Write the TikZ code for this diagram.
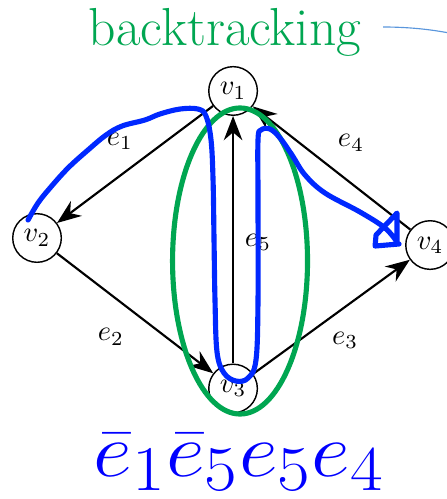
\documentclass[tikz,border=0pt]{standalone}
\usepackage{amsmath}
\usepackage{xcolor}
\usetikzlibrary{arrows.meta, positioning}
\definecolor{verde}{RGB}{0,166,81}
\definecolor{azul}{RGB}{0,40,255}
\definecolor{azulclaro}{RGB}{90,150,220}

\begin{document}
\begin{tikzpicture}[
    vertex/.style={
        circle,
        draw=black,
        line width=0.5pt,
        minimum size=0.6cm,
        inner sep=0pt
    },
    edge/.style={-{Stealth[length=8.5pt, width=6.5pt]}, line width=0.75pt},
    walk/.style={draw=azul, line width=1.8pt, line join=round, line cap=round}
]
\useasboundingbox (0,0) rectangle (5.506,-6.160);

% ---------------- Vertices ----------------
\node[vertex] (v1) at (2.877,-1.123) {$v_1$};
\node[vertex] (v2) at (0.457,-2.938) {$v_2$};
\node[vertex] (v3) at (2.877,-4.796) {$v_3$};
\node[vertex] (v4) at (5.309,-3.025) {$v_4$};

% ---------------- Edges ----------------
\draw[edge] (v1) -- (v2);
\draw[edge] (v2) -- (v3);
\draw[edge] (v3) -- (v4);
\draw[edge] (v4) -- (v1);
\draw[edge] (v3) -- (v1);

\node (l1) at (1.481,-1.741) {$e_1$};
\node (l2) at (1.370,-4.160) {$e_2$};
\node (l3) at (4.259,-4.198) {$e_3$};
\node (l4) at (4.333,-1.765) {$e_4$};
\node (l5) at (3.185,-2.988) {$e_5$};

% ---------------- Backtracking ----------------
\draw[verde, line width=1.8pt] (2.963,-3.222) ellipse [x radius=0.833, y radius=1.889];

\draw[walk] plot[smooth, tension=0.6] coordinates {
    (0.346,-2.716) (0.469,-2.506) (0.617,-2.321) (0.840,-2.074) (1.086,-1.852)
    (1.309,-1.667) (1.506,-1.556) (1.790,-1.481) (1.975,-1.407) (2.222,-1.346)
    (2.444,-1.346) (2.543,-1.432) (2.605,-1.728) (2.630,-2.222) (2.642,-2.963)
    (2.654,-3.704) (2.679,-4.346) (2.765,-4.605) (2.914,-4.704) (3.062,-4.667)
    (3.160,-4.444) (3.185,-3.704) (3.185,-2.469) (3.185,-1.728) (3.222,-1.605)
    (3.333,-1.593) (3.457,-1.704) (3.605,-1.914) (3.765,-2.160) (4.012,-2.383)
    (4.444,-2.617) (4.753,-2.815) (4.901,-2.988)}
    -- (4.901,-2.630) -- (4.642,-2.901) -- (4.630,-3.037) -- (4.926,-3.012);

\node[font=\fontsize{18.8}{22}\selectfont, text=verde, anchor=base] (titulo) at (2.778,-0.556) {backtracking};
\draw[azulclaro, line width=0.4pt] (4.728,-0.333) .. controls (5.1,-0.335) and (5.4,-0.37) .. (5.75,-0.45);

\node[text=blue, anchor=base, font=\Huge, xscale=1.2, yscale=1.08, transform shape] (camino) at (2.951,-5.877)
    {$\bar{e}_1\bar{e}_5e_5e_4$};

\end{tikzpicture}
\end{document}
